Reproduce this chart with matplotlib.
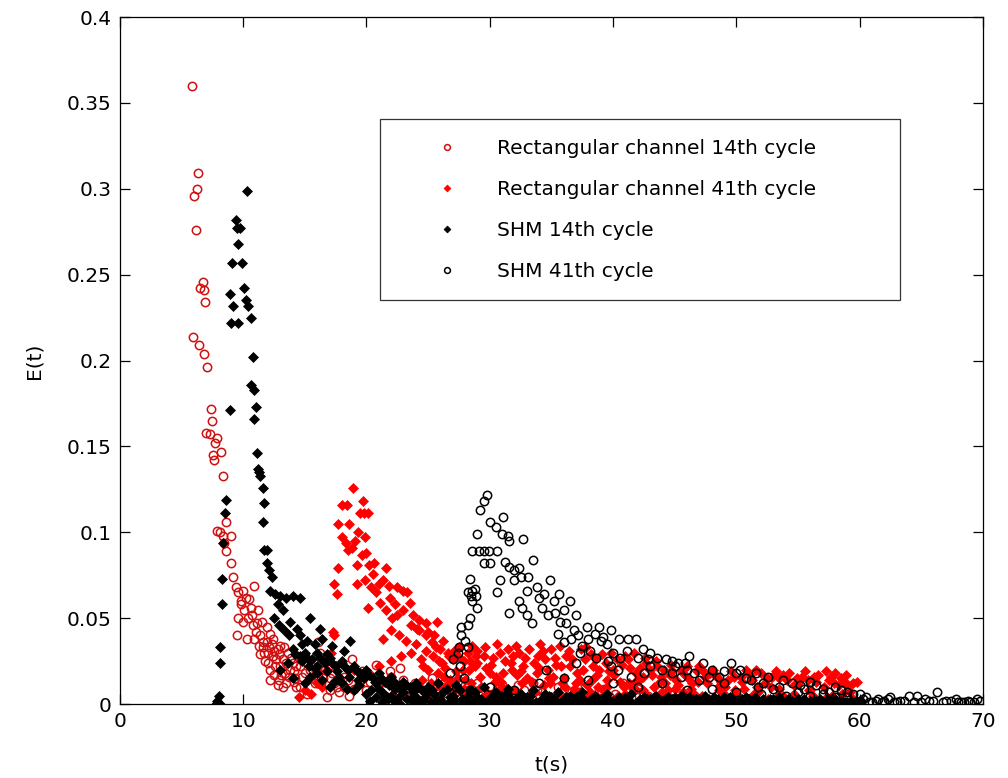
import matplotlib
matplotlib.use("Agg")
import matplotlib.pyplot as plt

# ---------------- data: (t, E) pairs ----------------
rect14_pts = [
    (5.84, 0.360), (6.33, 0.309), (6.25, 0.300), (6.0, 0.296), (6.16, 0.276), (6.7, 0.246),
    (6.5, 0.242), (6.8, 0.241), (6.9, 0.234), (5.9, 0.214), (6.4, 0.209), (6.8, 0.204),
    (7.05, 0.196), (7.4, 0.172), (7.5, 0.165), (7.0, 0.158), (7.3, 0.157), (7.9, 0.155),
    (7.7, 0.152), (8.2, 0.147), (7.55, 0.145), (7.6, 0.142), (8.35, 0.133), (8.6, 0.106),
    (7.9, 0.101), (8.1, 0.100), (8.4, 0.098), (9.0, 0.098), (8.45, 0.094), (8.6, 0.089),
    (9.0, 0.082), (9.2, 0.074), (9.4, 0.068), (9.6, 0.065), (10.0, 0.066), (10.9, 0.069),
    (9.8, 0.060), (10.2, 0.062), (9.6, 0.050), (10.0, 0.048), (10.4, 0.050), (10.8, 0.046),
    (11.1, 0.047), (9.5, 0.040), (10.3, 0.038), (11.4, 0.040), (11.6, 0.033), (12.0, 0.030),
    (12.4, 0.028), (12.8, 0.032), (13.2, 0.026), (13.6, 0.030), (14.0, 0.024), (14.6, 0.022),
    (11.8, 0.025), (12.2, 0.020), (12.2, 0.014), (12.8, 0.011), (13.4, 0.018), (14.2, 0.015),
    (15.0, 0.028), (15.4, 0.020), (16.1, 0.036), (16.2, 0.030), (15.8, 0.012), (16.8, 0.004),
    (17.2, 0.018), (17.6, 0.010), (18.2, 0.016), (18.8, 0.026), (19.4, 0.012), (20.0, 0.008),
    (20.8, 0.023), (21.2, 0.006), (21.9, 0.019), (22.7, 0.021), (22.2, 0.010), (23.2, 0.004),
    (23.9, 0.012), (24.6, 0.008), (25.3, 0.015), (26.0, 0.005), (26.8, 0.010), (27.5, 0.003),
    (28.3, 0.008), (29.0, 0.012), (29.8, 0.004), (30.6, 0.009), (31.5, 0.006), (32.3, 0.011),
    (33.0, 0.003), (33.8, 0.008), (34.6, 0.005), (35.5, 0.010), (36.3, 0.004), (37.2, 0.007),
    (38.0, 0.003), (38.9, 0.008), (39.7, 0.005), (40.8, 0.012), (41.5, 0.004), (42.4, 0.007),
    (43.2, 0.003), (44.1, 0.006), (45.0, 0.002), (11.9, 0.036), (12.6, 0.022), (13.0, 0.034),
    (13.8, 0.020), (14.4, 0.028), (11.4, 0.029), (12.3, 0.035), (14.8, 0.016), (13.5, 0.012),
    (14.3, 0.010), (15.2, 0.006), (16.5, 0.015), (10.6, 0.056), (11.0, 0.042), (12.0, 0.024),
    (13.1, 0.017), (14.1, 0.019), (15.6, 0.022), (17.0, 0.008), (18.5, 0.014), (19.8, 0.016),
    (21.5, 0.013),
    (9.8, 0.058), (10.1, 0.055), (10.5, 0.061), (10.7, 0.052), (11.2, 0.055), (11.5, 0.048),
    (11.9, 0.045), (12.2, 0.041), (10.9, 0.038), (11.6, 0.036), (12.4, 0.038), (11.3, 0.034),
    (11.7, 0.030), (12.1, 0.033), (12.5, 0.031), (12.9, 0.029), (13.3, 0.033), (12.7, 0.026),
    (13.0, 0.022), (13.5, 0.024), (13.9, 0.027), (14.3, 0.022), (14.7, 0.026), (15.2, 0.024),
    (12.5, 0.017), (12.9, 0.014), (13.2, 0.010), (13.7, 0.016), (14.1, 0.013), (14.6, 0.010),
    (15.0, 0.018), (15.5, 0.015), (15.9, 0.019), (16.3, 0.012), (16.6, 0.020), (17.0, 0.015),
    (17.4, 0.012), (17.8, 0.007), (18.2, 0.010), (18.6, 0.005), (19.0, 0.009), (19.6, 0.019),
    (20.3, 0.013), (20.9, 0.010), (21.5, 0.005), (22.0, 0.016), (22.5, 0.008), (23.0, 0.014),
    (23.5, 0.006), (24.2, 0.010), (24.8, 0.004), (25.6, 0.009), (26.4, 0.013), (27.2, 0.007),
    (28.0, 0.011), (28.8, 0.005), (29.5, 0.009), (30.2, 0.006), (31.0, 0.011), (31.8, 0.004),
    (32.8, 0.008), (33.5, 0.012), (34.2, 0.007), (35.0, 0.004), (36.0, 0.009), (36.8, 0.006),
    (37.7, 0.010), (38.5, 0.005), (39.3, 0.009), (40.2, 0.006), (41.0, 0.004), (42.0, 0.009),
    (42.8, 0.005), (43.7, 0.008), (44.5, 0.004),
]

rect41_pts = [
    (14.5, 0.004), (15.0, 0.008), (15.5, 0.006), (16.0, 0.012), (16.4, 0.010), (16.8, 0.020),
    (17.1, 0.030), (17.3, 0.042), (17.35, 0.040), (17.4, 0.070), (17.6, 0.064), (17.7, 0.079),
    (17.7, 0.105), (18.0, 0.116), (18.4, 0.116), (18.9, 0.126), (19.7, 0.118), (19.5, 0.111),
    (19.8, 0.111), (20.1, 0.111), (18.0, 0.097), (18.3, 0.094), (18.6, 0.105), (18.8, 0.091),
    (19.1, 0.095), (18.5, 0.090), (19.2, 0.081), (19.2, 0.070), (19.6, 0.087), (20.0, 0.088),
    (20.2, 0.081), (20.6, 0.082), (21.6, 0.079), (19.9, 0.072), (20.4, 0.068), (20.8, 0.065),
    (21.3, 0.072), (21.8, 0.069), (22.5, 0.068), (23.0, 0.066), (23.3, 0.065), (23.5, 0.059),
    (20.1, 0.056), (21.1, 0.059), (21.6, 0.055), (22.1, 0.050), (22.5, 0.052), (23.8, 0.052),
    (24.3, 0.049), (24.8, 0.047), (25.7, 0.048), (21.3, 0.038), (22.0, 0.043), (22.6, 0.040),
    (23.2, 0.037), (24.3, 0.043), (24.8, 0.040), (25.3, 0.036), (26.2, 0.037), (24.8, 0.031),
    (25.4, 0.028), (25.9, 0.025), (26.4, 0.021), (27.0, 0.026), (24.4, 0.026), (23.6, 0.030),
    (22.8, 0.028), (22.0, 0.025), (21.0, 0.022), (20.2, 0.018), (19.0, 0.020), (18.0, 0.024),
    (27.5, 0.033), (28.2, 0.030), (28.8, 0.022), (29.5, 0.028), (30.0, 0.018), (30.6, 0.035),
    (31.2, 0.025), (31.8, 0.020), (32.4, 0.030), (33.0, 0.015), (33.6, 0.024), (34.1, 0.035),
    (34.7, 0.020), (35.3, 0.027), (35.9, 0.012), (36.5, 0.022), (37.1, 0.018), (37.7, 0.026),
    (38.3, 0.014), (38.9, 0.020), (39.5, 0.010), (40.1, 0.017), (40.7, 0.023), (41.3, 0.012),
    (41.9, 0.018), (42.7, 0.024), (43.3, 0.010), (43.9, 0.016), (44.5, 0.008), (45.1, 0.014),
    (45.7, 0.018), (46.3, 0.009), (46.9, 0.013), (47.5, 0.016), (48.1, 0.020), (48.7, 0.011),
    (49.3, 0.014), (49.9, 0.008), (50.5, 0.013), (51.1, 0.017), (51.7, 0.010), (52.3, 0.012),
    (52.9, 0.016), (53.5, 0.009), (54.1, 0.014), (54.7, 0.011), (55.3, 0.016), (55.9, 0.008),
    (56.5, 0.013), (57.3, 0.019), (57.9, 0.012), (58.5, 0.015), (59.1, 0.010), (59.8, 0.013),
    (26.0, 0.010), (27.2, 0.008), (28.5, 0.012), (29.8, 0.006), (31.0, 0.010), (32.0, 0.008),
    (33.3, 0.005), (34.4, 0.011), (35.6, 0.006), (36.8, 0.009), (38.0, 0.004), (39.2, 0.008),
    (40.4, 0.005), (41.6, 0.009), (42.8, 0.004), (44.0, 0.007), (45.4, 0.004), (46.6, 0.006),
    (47.8, 0.003), (49.0, 0.006), (50.2, 0.004), (51.4, 0.006), (52.6, 0.003), (53.8, 0.005),
    (55.0, 0.003), (56.2, 0.005), (57.4, 0.004), (58.6, 0.006), (59.5, 0.003), (25.0, 0.020),
    (25.6, 0.033), (26.3, 0.016), (26.6, 0.030), (27.6, 0.027), (27.8, 0.020), (28.6, 0.034),
    (29.2, 0.016), (30.3, 0.027), (31.5, 0.032), (32.7, 0.022), (33.9, 0.028), (35.0, 0.032),
    (36.2, 0.028), (37.4, 0.032), (38.6, 0.026), (39.8, 0.030), (41.0, 0.028), (42.2, 0.021),
    (43.6, 0.022), (44.8, 0.019), (46.0, 0.022), (47.2, 0.020), (48.4, 0.016), (50.8, 0.020),
    (53.2, 0.019), (55.6, 0.019), (58.0, 0.018), (28.0, 0.014), (29.0, 0.024), (30.9, 0.013),
    (32.2, 0.017), (34.9, 0.012), (36.0, 0.015), (37.9, 0.011), (39.5, 0.014), (41.8, 0.013),
    (44.2, 0.012),
    (24.0, 0.035), (24.6, 0.022), (25.2, 0.012), (25.8, 0.018), (26.8, 0.014), (27.3, 0.019),
    (28.4, 0.025), (29.0, 0.031), (29.7, 0.021), (30.4, 0.013), (31.1, 0.018), (31.9, 0.028),
    (32.6, 0.012), (33.2, 0.032), (33.8, 0.018), (34.5, 0.026), (35.1, 0.016), (35.8, 0.022),
    (36.4, 0.031), (37.0, 0.012), (37.6, 0.020), (38.2, 0.029), (38.8, 0.010), (39.4, 0.024),
    (40.0, 0.020), (40.6, 0.013), (41.2, 0.026), (41.8, 0.009), (42.4, 0.016), (43.0, 0.020),
    (43.8, 0.013), (44.6, 0.017), (45.3, 0.011), (46.1, 0.015), (46.8, 0.019), (47.6, 0.012),
    (48.3, 0.017), (49.1, 0.010), (49.8, 0.016), (50.6, 0.009), (51.3, 0.014), (52.0, 0.018),
    (52.8, 0.010), (53.5, 0.015), (54.3, 0.018), (55.0, 0.012), (55.8, 0.014), (56.6, 0.017),
    (57.1, 0.010), (57.7, 0.016), (58.3, 0.011), (58.9, 0.017), (59.5, 0.012), (24.5, 0.014),
    (25.5, 0.006), (26.9, 0.004), (28.0, 0.006), (29.4, 0.003), (30.7, 0.005), (32.3, 0.003),
    (33.7, 0.007), (35.2, 0.003), (36.6, 0.005), (38.1, 0.007), (39.6, 0.003), (41.0, 0.006),
    (42.4, 0.008), (43.9, 0.003), (45.7, 0.007), (47.2, 0.005), (48.6, 0.008), (50.0, 0.005),
    (51.8, 0.007), (53.3, 0.004), (54.7, 0.006), (56.0, 0.008), (57.8, 0.005), (59.2, 0.007),
    (19.3, 0.100), (19.9, 0.097), (20.5, 0.076), (21.0, 0.070), (21.9, 0.062), (22.3, 0.058),
    (23.0, 0.055), (23.6, 0.046), (24.1, 0.044), (25.0, 0.042), (25.5, 0.040), (26.0, 0.032),
    (26.7, 0.028), (27.2, 0.030), (27.9, 0.025),
    (26.1, 0.024), (26.5, 0.011), (27.1, 0.031), (27.4, 0.015), (27.9, 0.009), (28.3, 0.020),
    (28.9, 0.028), (29.3, 0.010), (29.6, 0.033), (30.1, 0.023), (30.5, 0.016), (30.8, 0.030),
    (31.4, 0.009), (31.7, 0.024), (32.1, 0.034), (32.5, 0.019), (32.9, 0.027), (33.4, 0.013),
    (34.0, 0.021), (34.3, 0.031), (34.8, 0.015), (35.4, 0.023), (35.7, 0.034), (36.1, 0.010),
    (36.7, 0.026), (37.3, 0.014), (37.8, 0.033), (38.4, 0.022), (38.7, 0.017), (39.1, 0.029),
    (39.7, 0.019), (40.3, 0.026), (40.9, 0.010), (41.4, 0.021), (41.7, 0.030), (42.1, 0.014),
    (42.6, 0.027), (43.2, 0.017), (43.5, 0.025), (44.1, 0.020), (44.7, 0.023), (45.0, 0.009),
    (45.5, 0.020), (46.4, 0.012), (47.0, 0.022), (47.9, 0.018), (48.8, 0.013), (49.6, 0.019),
    (50.4, 0.016), (51.6, 0.020), (52.5, 0.015), (53.8, 0.017), (54.9, 0.015), (56.3, 0.016),
    (57.5, 0.014), (58.8, 0.013),
]

shm14_pts = [
    (7.8, 0.000), (7.9, 0.002), (8.0, 0.005), (8.1, 0.000), (8.1, 0.024), (8.15, 0.033),
    (8.25, 0.058), (8.3, 0.073), (8.4, 0.094), (8.5, 0.111), (8.6, 0.119), (8.9, 0.171),
    (9.0, 0.222), (8.9, 0.239), (9.2, 0.232), (9.1, 0.257), (9.6, 0.222), (9.4, 0.282),
    (9.5, 0.277), (9.7, 0.277), (9.55, 0.268), (9.9, 0.257), (10.3, 0.299), (10.1, 0.242),
    (10.2, 0.235), (10.4, 0.232), (10.6, 0.225), (10.8, 0.202), (10.6, 0.186), (10.9, 0.183),
    (11.0, 0.173), (10.9, 0.166), (11.1, 0.146), (11.2, 0.137), (11.3, 0.135), (11.4, 0.133),
    (11.6, 0.126), (11.7, 0.117), (11.6, 0.106), (11.7, 0.090), (11.9, 0.090), (11.9, 0.082),
    (12.1, 0.078), (12.3, 0.074), (12.2, 0.066), (12.6, 0.064), (13.0, 0.063), (13.5, 0.062),
    (14.0, 0.063), (14.6, 0.062), (12.5, 0.050), (12.9, 0.046), (13.3, 0.043), (13.8, 0.048),
    (14.4, 0.044), (15.4, 0.050), (14.6, 0.040), (15.2, 0.037), (15.8, 0.035), (16.4, 0.038),
    (18.7, 0.037), (14.0, 0.032), (14.6, 0.028), (15.0, 0.030), (15.6, 0.026), (16.0, 0.030),
    (16.6, 0.024), (17.0, 0.027), (17.5, 0.022), (18.0, 0.025), (18.5, 0.020), (19.0, 0.022),
    (19.5, 0.018), (20.0, 0.020), (20.5, 0.015), (21.0, 0.018), (21.5, 0.013), (22.0, 0.016),
    (22.5, 0.011), (23.0, 0.013), (23.5, 0.010), (24.0, 0.012), (24.5, 0.008), (25.0, 0.010),
    (13.0, 0.020), (14.0, 0.015), (15.0, 0.012), (16.0, 0.018), (17.0, 0.010), (18.0, 0.012),
    (19.0, 0.008), (20.0, 0.006), (21.0, 0.009), (22.0, 0.005), (23.0, 0.007), (24.0, 0.004),
    (25.5, 0.006), (26.0, 0.003), (27.0, 0.005), (28.0, 0.002), (29.0, 0.004), (30.0, 0.002),
    (31.0, 0.005), (32.0, 0.002), (33.0, 0.004), (34.0, 0.001), (35.0, 0.004), (36.0, 0.002),
    (37.0, 0.004), (38.0, 0.001), (39.0, 0.003), (40.0, 0.002), (41.0, 0.004), (42.0, 0.001),
    (43.0, 0.003), (44.0, 0.002), (45.0, 0.004), (46.0, 0.001), (47.0, 0.003), (48.0, 0.002),
    (49.0, 0.004), (50.0, 0.001), (51.0, 0.003), (52.0, 0.002), (53.0, 0.003), (54.0, 0.001),
    (55.0, 0.003), (56.0, 0.002), (57.0, 0.001), (58.0, 0.003), (59.0, 0.001), (60.0, 0.002),
    (25.8, 0.012), (26.5, 0.009), (27.3, 0.011), (28.5, 0.008), (29.5, 0.010), (30.5, 0.007),
    (31.5, 0.009), (32.5, 0.006), (33.5, 0.008), (34.5, 0.006), (35.5, 0.007), (36.5, 0.005),
    (37.5, 0.007), (38.5, 0.005), (39.5, 0.006), (40.5, 0.004), (41.5, 0.006), (42.5, 0.004),
    (43.5, 0.005), (44.5, 0.004), (45.5, 0.005), (46.5, 0.003), (47.5, 0.005), (48.5, 0.003),
    (49.5, 0.004), (50.5, 0.003), (51.5, 0.004), (52.5, 0.002), (53.5, 0.004), (54.5, 0.002),
    (55.5, 0.003), (56.5, 0.002), (57.5, 0.003), (58.5, 0.002), (13.6, 0.024), (15.3, 0.022),
    (16.8, 0.019), (17.8, 0.016), (19.3, 0.014), (20.8, 0.012), (22.3, 0.009), (23.8, 0.007),
    (14.2, 0.029), (14.8, 0.025), (15.2, 0.027), (15.8, 0.021), (16.2, 0.027), (16.8, 0.029),
    (17.2, 0.024), (17.6, 0.019), (18.2, 0.022), (18.6, 0.016), (19.2, 0.019), (19.8, 0.015),
    (20.2, 0.017), (20.7, 0.013), (21.2, 0.015), (21.8, 0.011), (22.2, 0.013), (22.8, 0.009),
    (23.2, 0.011), (23.8, 0.009), (24.2, 0.010), (24.8, 0.006), (25.3, 0.008), (15.4, 0.016),
    (16.4, 0.014), (17.4, 0.013), (18.4, 0.009), (19.4, 0.011), (20.4, 0.008), (21.4, 0.006),
    (22.6, 0.004), (23.6, 0.003), (24.6, 0.002), (26.2, 0.007), (26.8, 0.004), (27.6, 0.008),
    (28.2, 0.005), (28.8, 0.007), (29.3, 0.003), (30.2, 0.005), (30.8, 0.003), (31.3, 0.006),
    (31.8, 0.001), (32.3, 0.004), (32.8, 0.002), (33.3, 0.005), (34.2, 0.003), (34.8, 0.005),
    (35.3, 0.001), (36.2, 0.004), (36.8, 0.002), (37.3, 0.005), (38.2, 0.003), (38.8, 0.001),
    (39.3, 0.004), (40.2, 0.001), (40.8, 0.003), (41.3, 0.002), (42.2, 0.003), (42.8, 0.001),
    (43.3, 0.004), (44.2, 0.001), (44.8, 0.003), (45.3, 0.002), (46.2, 0.004), (46.8, 0.001),
    (47.3, 0.002), (48.2, 0.004), (48.8, 0.001), (49.3, 0.003), (50.2, 0.002), (50.8, 0.004),
    (51.3, 0.001), (52.2, 0.003), (52.8, 0.001), (53.3, 0.002), (54.2, 0.003), (54.8, 0.001),
    (55.3, 0.002), (56.2, 0.001), (56.8, 0.003), (57.3, 0.001), (58.2, 0.002), (58.8, 0.001),
    (59.3, 0.002), (59.8, 0.001), (16.2, 0.044), (17.2, 0.034), (18.2, 0.031), (13.2, 0.055),
    (12.8, 0.058), (13.7, 0.040), (14.8, 0.035), (16.0, 0.022),
    (20.25, 0.002), (20.75, 0.004), (21.25, 0.001), (21.75, 0.003), (22.25, 0.002), (22.75, 0.000),
    (23.25, 0.003), (23.75, 0.001), (24.25, 0.002), (24.75, 0.004), (25.25, 0.001), (25.75, 0.002),
    (26.25, 0.000), (26.75, 0.002), (27.25, 0.001), (27.75, 0.003), (28.25, 0.001), (28.75, 0.002),
    (29.25, 0.000), (29.75, 0.002), (30.25, 0.001), (30.75, 0.000), (31.25, 0.002), (31.75, 0.003),
    (32.25, 0.001), (32.75, 0.000), (33.25, 0.002), (33.75, 0.001), (34.25, 0.000), (34.75, 0.002),
    (35.25, 0.003), (35.75, 0.001), (36.25, 0.000), (36.75, 0.003), (37.25, 0.001), (37.75, 0.002),
    (38.25, 0.000), (38.75, 0.003), (39.25, 0.001), (39.75, 0.002), (40.25, 0.000), (40.75, 0.001),
    (41.25, 0.003), (41.75, 0.000), (42.25, 0.002), (42.75, 0.003), (43.25, 0.001), (43.75, 0.000),
    (44.25, 0.003), (44.75, 0.001), (45.25, 0.000), (45.75, 0.002), (46.25, 0.001), (46.75, 0.003),
    (47.25, 0.000), (47.75, 0.001), (48.25, 0.002), (48.75, 0.000), (49.25, 0.001), (49.75, 0.002),
    (50.25, 0.000), (50.75, 0.001), (51.25, 0.002), (51.75, 0.000), (52.25, 0.001), (52.75, 0.003),
    (53.25, 0.000), (53.75, 0.001), (54.25, 0.002), (54.75, 0.000), (55.25, 0.001), (55.75, 0.000),
    (56.25, 0.002), (56.75, 0.000), (57.25, 0.002), (57.75, 0.000), (58.25, 0.001), (58.75, 0.000),
    (59.25, 0.001), (59.75, 0.000),
]

shm41_pts = [
    (26.8, 0.018), (27.0, 0.026), (27.3, 0.010), (27.5, 0.033), (27.7, 0.045), (27.7, 0.040),
    (28.0, 0.037), (28.2, 0.033), (28.4, 0.073), (28.6, 0.060), (28.6, 0.066), (28.9, 0.063),
    (29.0, 0.056), (28.4, 0.050), (28.2, 0.046), (28.6, 0.089), (29.0, 0.099), (29.2, 0.113),
    (29.5, 0.118), (29.8, 0.122), (29.1, 0.089), (29.5, 0.089), (29.9, 0.089), (30.6, 0.089),
    (29.5, 0.082), (30.0, 0.082), (30.0, 0.106), (30.5, 0.103), (30.8, 0.072), (30.6, 0.065),
    (31.1, 0.109), (31.0, 0.099), (31.5, 0.098), (31.6, 0.095), (32.7, 0.096), (31.2, 0.083),
    (31.6, 0.080), (32.0, 0.078), (32.4, 0.079), (33.5, 0.084), (31.6, 0.053), (32.5, 0.074),
    (33.1, 0.074), (32.0, 0.072), (33.0, 0.066), (32.4, 0.060), (32.6, 0.056), (33.0, 0.052),
    (33.4, 0.047), (33.8, 0.068), (34.4, 0.064), (34.9, 0.072), (35.2, 0.060), (34.0, 0.062),
    (35.6, 0.064), (36.0, 0.055), (36.5, 0.060), (35.3, 0.053), (36.2, 0.047), (36.8, 0.043),
    (37.2, 0.040), (35.5, 0.041), (36.0, 0.036), (37.5, 0.034), (37.9, 0.045), (38.5, 0.041),
    (39.0, 0.037), (39.5, 0.035), (38.1, 0.031), (38.9, 0.045), (39.2, 0.039), (40.5, 0.038),
    (41.2, 0.038), (41.9, 0.038), (40.0, 0.030), (41.1, 0.031), (40.6, 0.027), (42.0, 0.027),
    (42.8, 0.026), (43.6, 0.027), (44.3, 0.026), (45.0, 0.022), (46.2, 0.028), (44.8, 0.018),
    (46.0, 0.020), (47.3, 0.024), (48.0, 0.020), (48.6, 0.016), (49.6, 0.024), (50.0, 0.018),
    (50.3, 0.020), (51.2, 0.014), (52.6, 0.016), (53.5, 0.010), (54.5, 0.012), (55.5, 0.009),
    (56.5, 0.011), (57.5, 0.007), (58.5, 0.008), (59.5, 0.006), (60.5, 0.004), (61.5, 0.003),
    (62.5, 0.004), (63.3, 0.002), (64.0, 0.005), (64.7, 0.005), (65.3, 0.003), (66.3, 0.007),
    (67.0, 0.002), (67.8, 0.003), (68.5, 0.001), (69.5, 0.003), (60.0, 0.002), (61.0, 0.001),
    (62.0, 0.002), (63.0, 0.001), (65.0, 0.001), (66.0, 0.002), (68.0, 0.001), (69.0, 0.001),
    (30.0, 0.010), (32.0, 0.008), (34.0, 0.012), (36.0, 0.015), (38.0, 0.014), (40.0, 0.012),
    (42.0, 0.010), (44.0, 0.012), (46.0, 0.008), (48.0, 0.009), (50.0, 0.007), (52.0, 0.006),
    (54.0, 0.005), (56.0, 0.005), (58.0, 0.004), (60.3, 0.003), (60.8, 0.001), (61.3, 0.002),
    (61.8, 0.001), (62.3, 0.003), (62.8, 0.001), (63.6, 0.002), (64.4, 0.001), (65.6, 0.002),
    (66.8, 0.001), (67.4, 0.002), (68.2, 0.001), (68.8, 0.002), (69.3, 0.001), (69.8, 0.002),
    (34.6, 0.020), (37.0, 0.024), (39.8, 0.022), (42.5, 0.018), (45.5, 0.016), (47.0, 0.014),
    (49.0, 0.012), (51.8, 0.010), (53.0, 0.009), (55.0, 0.007), (57.0, 0.006), (59.0, 0.004),
    (40.4, 0.020), (41.5, 0.016), (43.0, 0.022), (44.0, 0.020), (45.3, 0.024), (46.6, 0.018),
    (47.8, 0.016), (49.0, 0.019), (50.8, 0.015), (51.6, 0.018), (52.2, 0.012), (53.8, 0.014),
    (55.2, 0.011), (56.0, 0.013), (57.0, 0.009), (58.0, 0.010), (59.0, 0.007), (60.0, 0.006),
    (37.3, 0.030), (38.6, 0.027), (39.6, 0.025), (42.4, 0.032), (43.0, 0.030), (44.8, 0.025),
    (45.8, 0.024), (36.6, 0.038), (37.0, 0.052), (38.0, 0.038), (39.8, 0.043), (34.2, 0.056),
    (34.7, 0.052), (35.7, 0.048), (28.2, 0.065), (28.5, 0.063), (28.8, 0.067), (27.4, 0.030),
    (27.6, 0.022), (27.9, 0.015), (28.4, 0.008),
]

rect14_t, rect14_E = zip(*rect14_pts)
rect41_t, rect41_E = zip(*rect41_pts)
shm14_t, shm14_E = zip(*shm14_pts)
shm41_t, shm41_E = zip(*shm41_pts)

labels = ["Rectangular channel 14th cycle", "Rectangular channel 41th cycle",
          "SHM 14th cycle", "SHM 41th cycle"]
xticks = [0, 10, 20, 30, 40, 50, 60, 70]
yticks = [0, 0.05, 0.1, 0.15, 0.2, 0.25, 0.3, 0.35, 0.4]
yticklabels = ["0", "0.05", "0.1", "0.15", "0.2", "0.25", "0.3", "0.35", "0.4"]

# ---------------- figure ----------------
plt.rcParams['font.family'] = ['DejaVu Sans']
fig = plt.figure(figsize=(10.08, 7.78), dpi=100)
ax = fig.add_axes([0.119, 0.095, 0.856, 0.883])

ax.plot(rect14_t, rect14_E, linestyle='none', marker='o', ms=6.0, mfc='none',
        mec='#d01010', mew=1.1, label=labels[0])
ax.plot(rect41_t, rect41_E, linestyle='none', marker='D', ms=5.0, mfc='#ff0000',
        mec='#ff0000', mew=0.5, label=labels[1])
ax.plot(shm14_t, shm14_E, linestyle='none', marker='D', ms=5.0, mfc='black',
        mec='black', mew=0.5, label=labels[2])
ax.plot(shm41_t, shm41_E, linestyle='none', marker='o', ms=6.0, mfc='none',
        mec='black', mew=1.1, label=labels[3])

ax.set_xlim(0, 70)
ax.set_ylim(0, 0.4)
ax.set_xticks(xticks)
ax.set_xticklabels([str(v) for v in xticks])
ax.set_yticks(yticks)
ax.set_yticklabels(yticklabels)
ax.tick_params(direction='in', top=True, right=True, length=7, width=0.9,
               labelsize=14.5, pad=6)
for s in ax.spines.values():
    s.set_linewidth(0.9)

ax.set_xlabel('t(s)', fontsize=14.5, labelpad=17)
ax.set_ylabel('E(t)', fontsize=14.5, labelpad=17)

leg = ax.legend(loc='upper left', bbox_to_anchor=(0.301, 0.851, 0.603, 0.0),
                mode='expand', fontsize=14.5,
                frameon=True, fancybox=False, shadow=False, markerscale=0.7,
                handlelength=4.8, handletextpad=0.1, borderpad=0.95, labelspacing=1.1,
                borderaxespad=0.0)
leg.get_frame().set_edgecolor('black')
leg.get_frame().set_linewidth(0.9)

fig.savefig('out.png', dpi=100)
